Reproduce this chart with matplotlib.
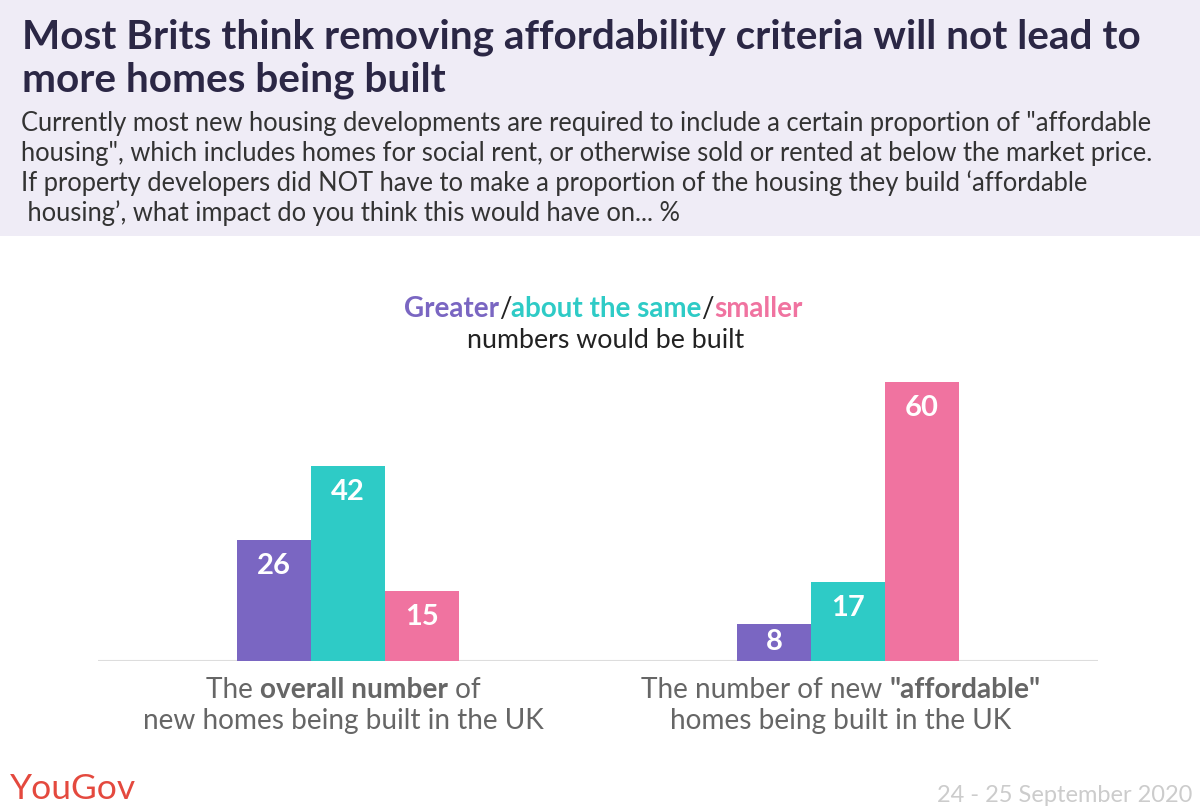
import numpy as np
import matplotlib.pyplot as plt
from matplotlib.patches import Rectangle

plt.rcParams['font.family'] = ['Lato', 'DejaVu Sans']

series = ["Greater", "about the same", "smaller"]
colors = ["#7A66C2", "#2ECBC6", "#F073A0"]
greater = [26, 8]
same = [42, 17]
smaller = [15, 60]
values = [greater, same, smaller]

title = ["Most Brits think removing affordability criteria will not lead to",
         "more homes being built"]
subtitle = ["Currently most new housing developments are required to include a certain proportion of \"affordable",
            "housing\", which includes homes for social rent, or otherwise sold or rented at below the market price.",
            "If property developers did NOT have to make a proportion of the housing they build \u2018affordable",
            " housing\u2019, what impact do you think this would have on... %"]
cat_labels = [
    [[("The ", "normal"), ("overall number", "bold"), (" of", "normal")],
     [("new homes being built in the UK", "normal")]],
    [[("The number of new ", "normal"), ("\"affordable\"", "bold")],
     [("homes being built in the UK", "normal")]],
]

W, H = 1200, 810
fig = plt.figure(figsize=(12, 8.1), dpi=100)
fig.patch.set_facecolor("white")
renderer = fig.canvas.get_renderer()

# header band
fig.add_artist(Rectangle((0, 1 - 236 / H), 1, 236 / H, transform=fig.transFigure,
                         facecolor="#EFECF6", edgecolor="none", zorder=0))
for i, line in enumerate(title):
    fig.text(22 / W, 1 - (37 + 43 * i) / H, line, fontsize=29.2, fontweight="bold",
             color="#2B2745", va="center", ha="left")
for i, line in enumerate(subtitle):
    fig.text(21 / W, 1 - (123 + 30 * i) / H, line, fontsize=18.4, color="#333333",
             va="center", ha="left")


def rich_line(pieces, xc, yc, size, default_color="#666666"):
    """Draw text pieces side by side, centred on xc (pixels)."""
    arts = []
    for p in pieces:
        txt, weight = p[0], p[1]
        col = p[2] if len(p) > 2 else default_color
        t = fig.text(0, 1 - yc / H, txt, fontsize=size, fontweight=weight, color=col,
                     va="center", ha="left")
        arts.append(t)
    widths = [a.get_window_extent(renderer).width for a in arts]
    x = xc - sum(widths) / 2
    for a, w in zip(arts, widths):
        a.set_x(x / W)
        x += w


# legend-like heading
rich_line([("Greater", "bold", colors[0]), ("/", "normal", "#222222"),
           ("about the same", "bold", colors[1]), ("/", "normal", "#222222"),
           ("smaller", "bold", colors[2])], 603, 309, 20)
fig.text(606 / W, 1 - 340 / H, "numbers would be built", fontsize=19.3, color="#222222",
         ha="center", va="center")

# bars
ax = fig.add_axes([98 / W, (H - 661) / H, 1000 / W, 279 / H])
ax.set_xlim(-0.5, 1.5)
ax.set_ylim(0, 60)
x = np.arange(len(greater))
bw = 0.148
for i, (vals, col) in enumerate(zip(values, colors)):
    pos = x + (i - 1) * bw
    ax.bar(pos, vals, width=bw, color=col, zorder=2)
    for px, v in zip(pos, vals):
        ax.text(px, max(v - 5.6, v / 2), str(v), ha="center", va="center",
                color="white", fontsize=21, fontweight="bold", zorder=3)
ax.axhline(0, color="#DDDDDD", lw=1.5, zorder=1)
ax.axis("off")

# category labels
centers = [343, 841]
for xc, lines in zip(centers, cat_labels):
    for j, ln in enumerate(lines):
        rich_line(ln, xc, 690 + 31 * j, 20.2)

# footer
fig.text(10 / W, 1 - 789 / H, "YouGov", fontsize=25.5, color="#E4493E", ha="left",
         va="center")
fig.text(1192 / W, 1 - 796 / H, "24 - 25 September 2020", fontsize=17, color="#CCCCCC",
         ha="right", va="center")

fig.savefig("out.png", dpi=100, facecolor=fig.get_facecolor())
